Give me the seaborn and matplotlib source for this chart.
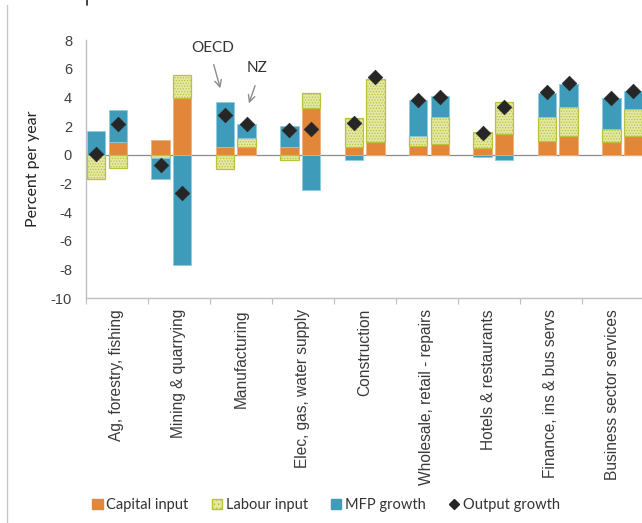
import numpy as np
import pandas as pd
import seaborn as sns
import matplotlib.pyplot as plt
from matplotlib.patches import Patch
from matplotlib.lines import Line2D

sectors = ["Ag, forestry, fishing", "Mining & quarrying", "Manufacturing",
           "Elec, gas, water supply", "Construction", "Wholesale, retail - repairs",
           "Hotels & restaurants", "Finance, ins & bus servs", "Business sector services"]
regions = ["OECD", "NZ"]

# values per sector, OECD then NZ
capital_oecd = [0.0, 1.02, 0.56, 0.56, 0.56, 0.60, 0.47, 0.95, 0.86]
capital_nz = [0.90, 3.98, 0.56, 3.23, 0.90, 0.74, 1.44, 1.30, 1.30]
labour_oecd = [-1.72, -0.20, -1.02, -0.35, 2.02, 0.68, 1.11, 1.70, 0.95]
labour_nz = [-0.93, 1.58, 0.58, 1.10, 4.36, 1.89, 2.26, 2.05, 1.86]
mfp_oecd = [1.65, -1.52, 3.14, 1.44, -0.37, 2.56, -0.14, 1.68, 2.17]
mfp_nz = [2.20, -7.67, 1.02, -2.44, 0.05, 1.47, -0.40, 1.60, 1.26]
output_oecd = [0.05, -0.72, 2.74, 1.70, 2.23, 3.84, 1.51, 4.37, 3.98]
output_nz = [2.16, -2.70, 2.16, 1.81, 5.42, 4.02, 3.33, 4.98, 4.44]

df = pd.DataFrame({
    "sector": sectors * 2,
    "region": ["OECD"] * 9 + ["NZ"] * 9,
    "capital": capital_oecd + capital_nz,
    "labour": labour_oecd + labour_nz,
    "mfp": mfp_oecd + mfp_nz,
    "output": output_oecd + output_nz,
})
df["idx"] = df["sector"].map({s: i for i, s in enumerate(sectors)})
offset = {"OECD": -0.168, "NZ": 0.168}
df["xpos"] = df["idx"] + df["region"].map(offset)

sns.set_style("white")
plt.rcParams["font.family"] = ["Liberation Sans", "DejaVu Sans"]
plt.rcParams["axes.unicode_minus"] = False
plt.rcParams["hatch.linewidth"] = 0.6

fig = plt.figure(figsize=(6.42, 5.23), dpi=100)
ax = fig.add_axes([86 / 642, 1 - 298 / 523, 558 / 642, 258 / 523])

# category axis
ax.set_xlim(0, 9)
ax.set_ylim(-10, 8)
ax.set_xticks(np.arange(10))
ax.set_xticklabels([])
ax.set_xticks(np.arange(9) + 0.5, minor=True)
ax.set_xticklabels(sectors, minor=True, rotation=90, va="top", ha="center",
                   fontsize=11.2, color="#3a3a3a")
ax.tick_params(axis="x", which="major", length=4, color="#BFBFBF", direction="out")
ax.tick_params(axis="x", which="minor", length=0, pad=8)
ax.set_yticks(np.arange(-10, 9, 2))
ax.tick_params(axis="y", length=4, color="#BFBFBF", direction="out",
               labelsize=10.5, labelcolor="#404040", pad=6)
for s in ["top", "right"]:
    ax.spines[s].set_visible(False)
for s in ["left", "bottom"]:
    ax.spines[s].set_color("#BFBFBF")
    ax.spines[s].set_linewidth(1.0)
ax.axhline(0, color="#8C8C8C", lw=0.9, zorder=1)
ax.set_ylabel("Percent per year", family=["Lato", "DejaVu Sans"], fontsize=11.5,
              color="#222222")
ax.yaxis.set_label_coords(-0.082, 0.5)

# bar axis (slightly different spacing than category ticks)
bx = ax.twiny()
bx.axis("off")

width = 0.287
cap_c, lab_fc, lab_ec, mfp_c = "#E2873A", "#E4E8A4", "#B9C33A", "#3F9BBA"

pos_base = np.zeros(len(df))
neg_base = np.zeros(len(df))
layers = [("capital", dict(color=cap_c, edgecolor="#F0B07A", lw=0.6)),
          ("labour", dict(color=lab_fc, edgecolor=lab_ec, hatch="......", lw=0.9)),
          ("mfp", dict(color=mfp_c, edgecolor="#8FCBE0", lw=0.6))]
for col, style in layers:
    vals = df[col].to_numpy()
    bottom = np.where(vals >= 0, pos_base, neg_base)
    bx.bar(df["xpos"], vals, width=width, bottom=bottom, zorder=2, **style)
    pos_base = pos_base + np.clip(vals, 0, None)
    neg_base = neg_base + np.clip(vals, None, 0)

sns.scatterplot(data=df, x="xpos", y="output", marker="D", s=55, color="#262626",
                edgecolor="#262626", linewidth=0.5, ax=bx, zorder=4, legend=False)
bx.set_xlim((86 - 107) / 64.4, (644 - 107) / 64.4)
bx.set_ylim(-10, 8)

# annotations
fig.text(213 / 642, 1 - 47.5 / 523, "OECD", ha="center", va="center", fontsize=11,
         family=["Lato", "DejaVu Sans"], color="#333333")
fig.text(257 / 642, 1 - 68.5 / 523, "NZ", ha="center", va="center", fontsize=11,
         family=["Lato", "DejaVu Sans"], color="#333333")
arrow = dict(arrowstyle="->", color="#8C8C8C", lw=1.0, mutation_scale=12)
ax.annotate("", xy=(221 / 642, 1 - 91 / 523), xytext=(213 / 642, 1 - 62 / 523),
            xycoords="figure fraction", textcoords="figure fraction", arrowprops=arrow)
ax.annotate("", xy=(248 / 642, 1 - 106 / 523), xytext=(256 / 642, 1 - 83 / 523),
            xycoords="figure fraction", textcoords="figure fraction", arrowprops=arrow)

# legend
handles = [Patch(facecolor=cap_c, edgecolor=cap_c, label="Capital input"),
           Patch(facecolor=lab_fc, edgecolor=lab_ec, hatch="....", label="Labour input"),
           Patch(facecolor=mfp_c, edgecolor=mfp_c, label="MFP growth"),
           Line2D([], [], marker="D", color="#262626", ls="none", markersize=5,
                  label="Output growth")]
fig.legend(handles=handles, loc="center", bbox_to_anchor=(0.508, 0.034), ncol=4,
           frameon=False, prop={"family": ["Lato", "DejaVu Sans"], "size": 10.5},
           handlelength=0.7, handleheight=0.7, handletextpad=0.25, columnspacing=1.6,
           labelcolor="#333333")

# outer frame remnants
fig.add_artist(Line2D([7 / 642, 7 / 642], [0, 1 - 5 / 523], color="#C8C8C8", lw=1.0))
fig.add_artist(Line2D([87 / 642, 87 / 642], [1, 1 - 5 / 523], color="#222222", lw=1.2))

fig.savefig("out.png", dpi=100)
